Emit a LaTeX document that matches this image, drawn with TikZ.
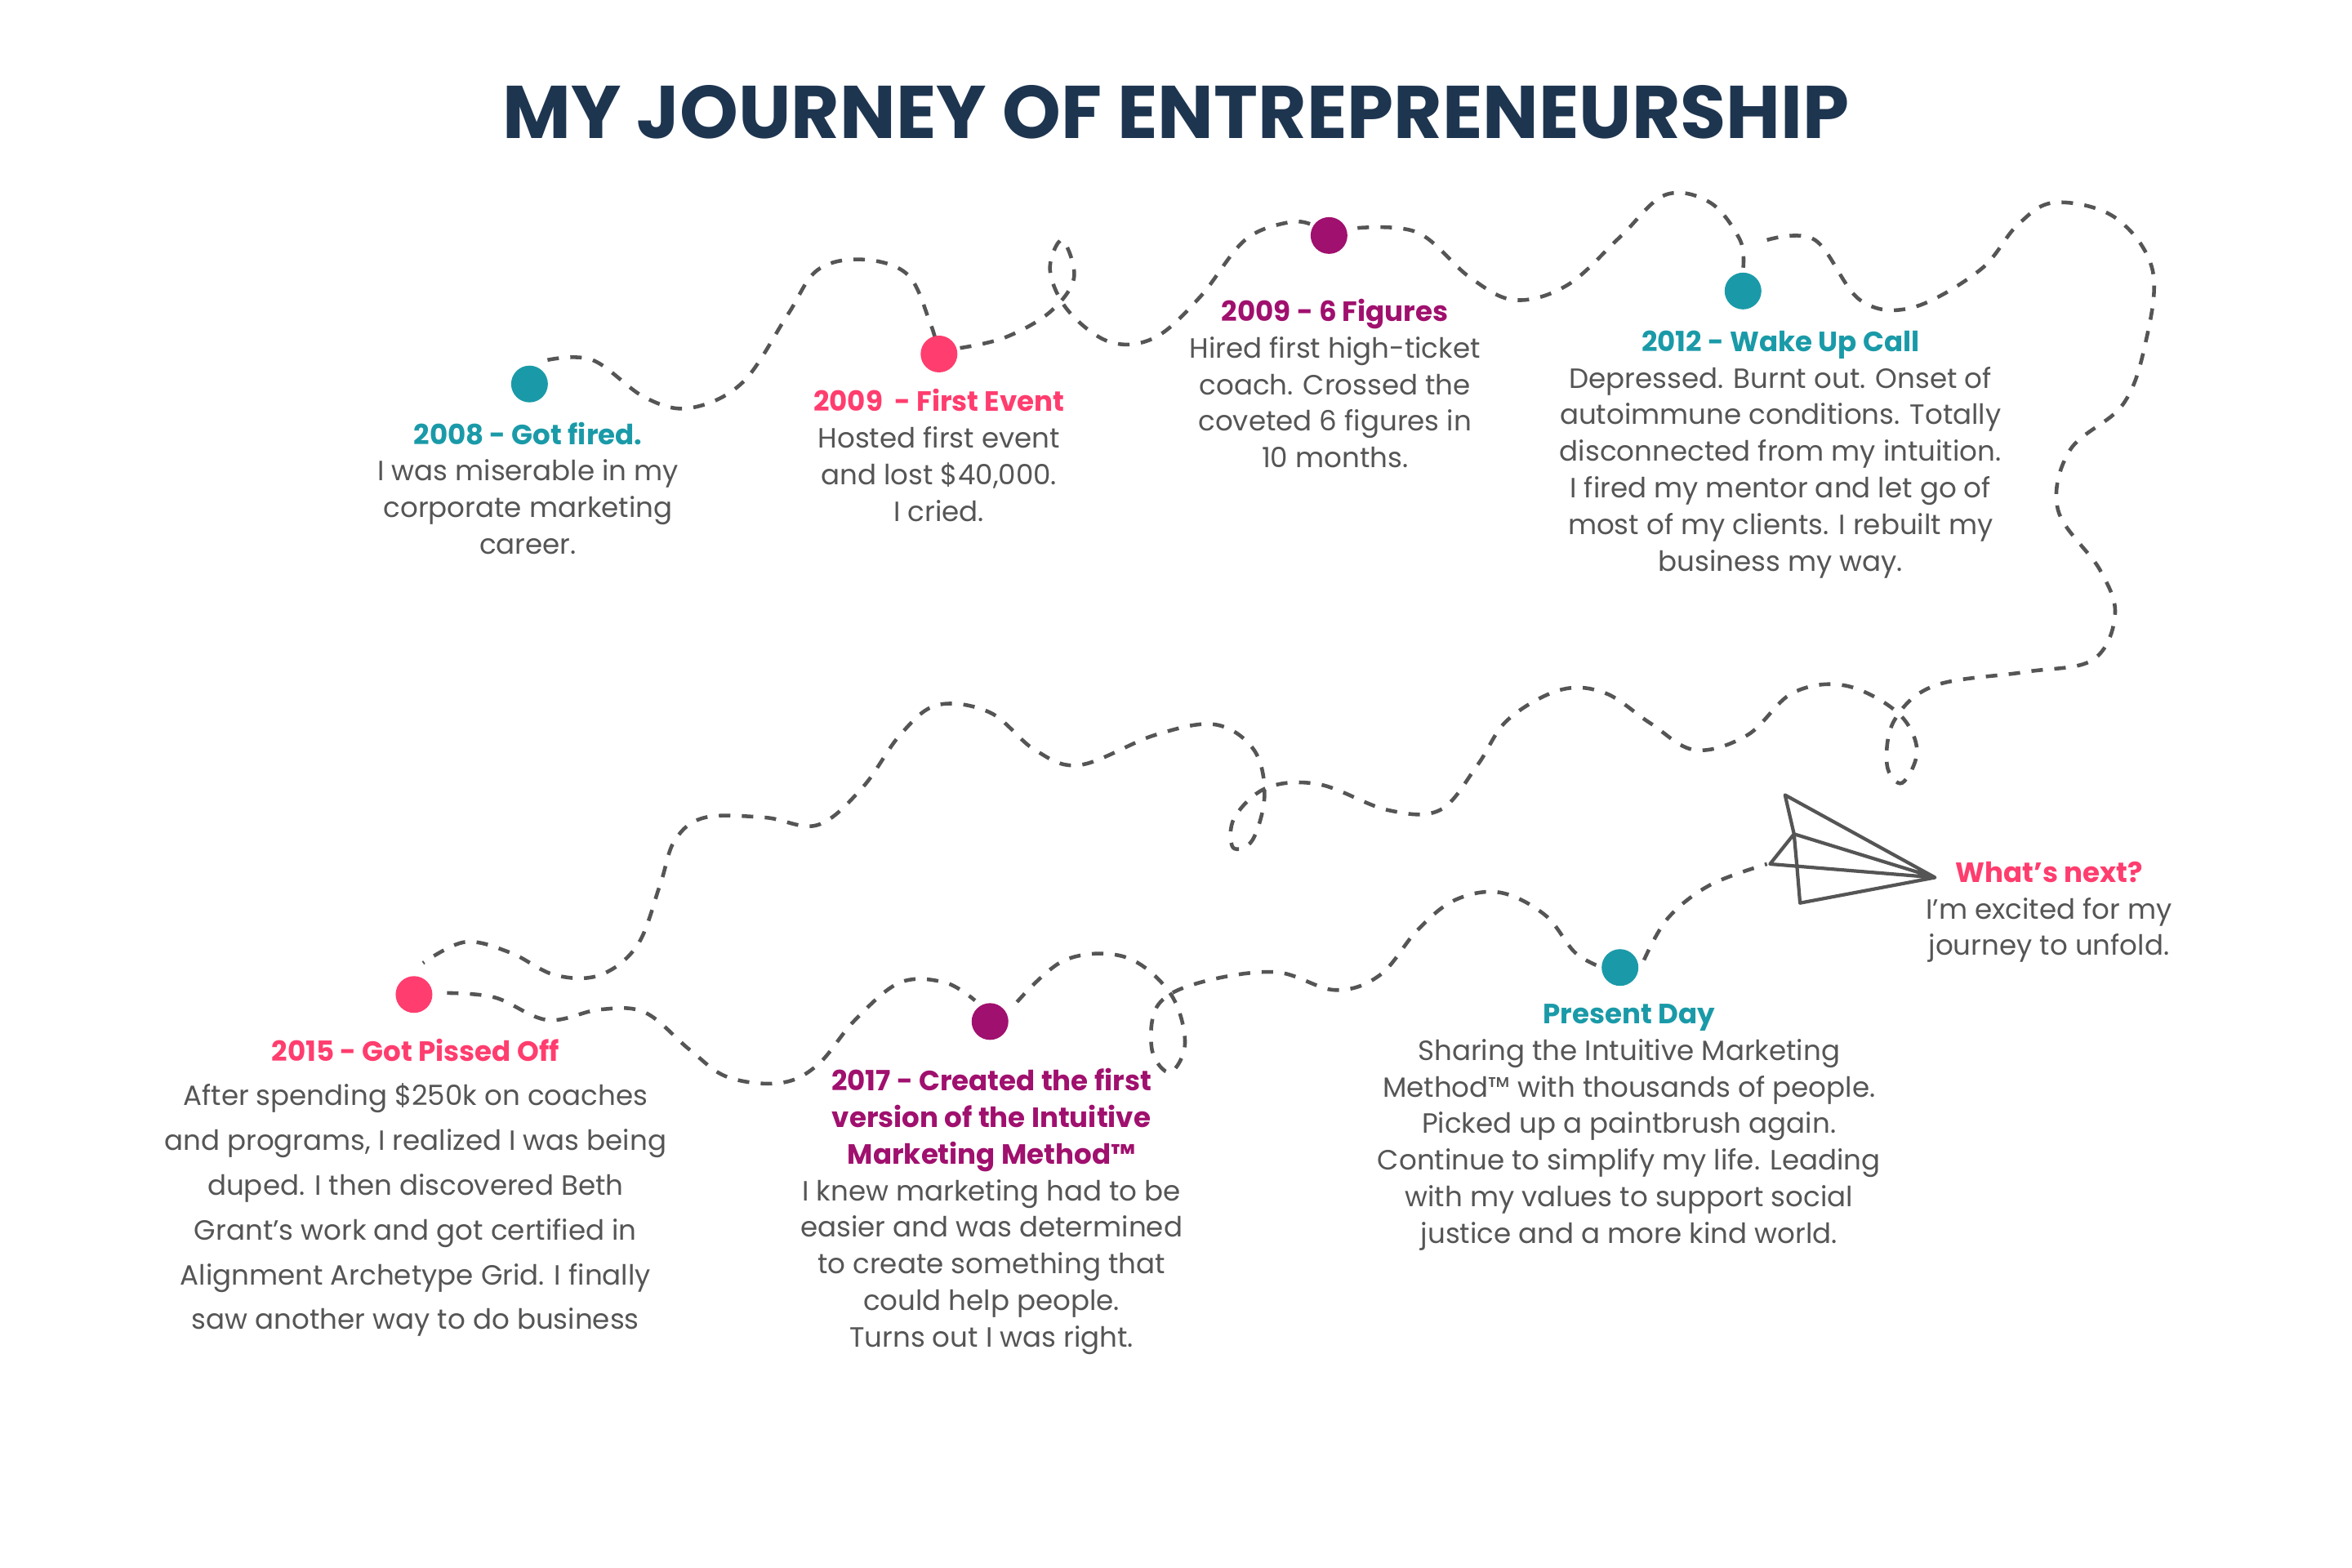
\documentclass[tikz,border=0pt]{standalone}
\usepackage{fontspec}
\setmainfont{Poppins}
\definecolor{teal1}{HTML}{1A9AA8}
\definecolor{pink1}{HTML}{FF3D6E}
\definecolor{purp1}{HTML}{A0106E}
\definecolor{navy1}{HTML}{1E3550}
\definecolor{txt1}{HTML}{555555}
\definecolor{line1}{HTML}{555555}
\begin{document}
\begin{tikzpicture}[x=0.018367cm,y=-0.018367cm,
  trail/.style={line1,line width=1.3pt,dash pattern=on 4pt off 4pt},
  dotn/.style={circle,minimum size=0.45cm,inner sep=0},
  info/.style={anchor=north,align=center,text=txt1,font=\fontsize{9.7}{12.75}\selectfont,inner sep=0}]
\useasboundingbox (0,0) rectangle (1568,1045);
\fill[white] (0,0) rectangle (1568,1045);
\node[font=\bfseries\fontsize{26}{30}\selectfont,text=navy1] (title) at (784,75) {MY JOURNEY OF ENTREPRENEURSHIP};
\draw[trail] plot[smooth,tension=0.6] coordinates {(365,240) (395,240) (430,265) (460,272) (495,255) (525,210) (545,180) (575,173) (605,183) (620,215) (625,232)};
\draw[trail] plot[smooth,tension=0.6] coordinates {(640,232) (670,225) (700,208) (716,185) (708,160) (700,180) (712,207) (740,228) (770,225) (800,198) (830,160) (860,148) (875,150)};
\draw[trail] plot[smooth,tension=0.6] coordinates {(905,152) (945,155) (980,185) (1010,200) (1045,190) (1080,158) (1110,130) (1140,135) (1160,160) (1162,180)};
\draw[trail] plot[smooth,tension=0.6] coordinates {(1178,160) (1210,160) (1240,200) (1275,205) (1320,180) (1345,150) (1370,135) (1410,145) (1435,180) (1430,230) (1415,270) (1380,300) (1372,340) (1400,380) (1410,410) (1395,440) (1350,448) (1290,457) (1263,480) (1258,510) (1268,522) (1278,500) (1265,475) (1230,457) (1195,462) (1165,490) (1130,500) (1100,482) (1070,462) (1040,460) (1005,480) (985,510) (960,540) (925,540) (880,523) (845,525) (823,545) (822,565) (835,560) (843,530) (836,500) (810,483) (770,490) (720,510) (690,500) (660,475) (625,470) (600,490) (575,525) (545,550) (510,545) (470,545) (450,560) (440,590) (425,630) (400,650) (370,650) (340,635) (310,628) (282,642)};
\draw[trail] plot[smooth,tension=0.6] coordinates {(298,662) (330,665) (365,680) (400,673) (430,675) (460,700) (485,718) (520,722) (545,710) (570,680) (600,655) (630,655) (650,667)};
\draw[trail] plot[smooth,tension=0.6] coordinates {(678,668) (710,640) (750,638) (780,662) (790,695) (780,715) (768,700) (772,670) (800,655) (850,648) (890,660) (920,650) (945,620) (970,600) (1000,595) (1030,610) (1050,635) (1068,645)};
\draw[trail] plot[smooth,tension=0.6] coordinates {(1096,640) (1112,612) (1140,590) (1178,576)};
% plane
\draw[line1,line width=1.2pt,line join=round] (1190,530) -- (1290,585) -- (1180,576) -- (1196,556) -- cycle
 (1196,556) -- (1290,585) (1198,578) -- (1200,602) -- (1290,585) (1196,556)--(1198,578);
\node[dotn,fill=teal1] (d1) at (353,256) {};
\node[dotn,fill=pink1] (d2) at (626,236) {};
\node[dotn,fill=purp1] (d3) at (886,157) {};
\node[dotn,fill=teal1] (d4) at (1162,194) {};
\node[dotn,fill=pink1] (d5) at (276,663) {};
\node[dotn,fill=purp1] (d6) at (660,681) {};
\node[dotn,fill=teal1] (d7) at (1080,645) {};
\node[info] (t1) at (352,281) {\textcolor{teal1}{\bfseries 2008 - Got fired.}\\I was miserable in my\\corporate marketing\\career.};
\node[info] (t2) at (626,259) {\textcolor{pink1}{\bfseries 2009\ \ - First Event}\\Hosted first event\\and lost \$40,000.\\I cried.};
\node[info] (t3) at (890,199) {\textcolor{purp1}{\bfseries 2009 - 6 Figures}\\Hired first high-ticket\\coach. Crossed the\\coveted 6 figures in\\10 months.};
\node[info] (t4) at (1187,220) {\textcolor{teal1}{\bfseries 2012 - Wake Up Call}\\Depressed. Burnt out. Onset of\\autoimmune conditions. Totally\\disconnected from my intuition.\\I fired my mentor and let go of\\most of my clients. I rebuilt my\\business my way.};
\node[info,font=\fontsize{9.7}{15.6}\selectfont] (t5) at (277,692) {\textcolor{pink1}{\bfseries 2015 - Got Pissed Off}\\After spending \$250k on coaches\\and programs, I realized I was being\\duped. I then discovered Beth\\Grant's work and got certified in\\Alignment Archetype Grid. I finally\\saw another way to do business};
\node[info] (t6) at (661,712) {\textcolor{purp1}{\bfseries 2017 - Created the first}\\\textcolor{purp1}{\bfseries version of the Intuitive}\\\textcolor{purp1}{\bfseries Marketing Method™}\\I knew marketing had to be\\easier and was determined\\to create something that\\could help people.\\Turns out I was right.};
\node[info] (t7) at (1086,669) {\textcolor{teal1}{\bfseries Present Day}\\Sharing the Intuitive Marketing\\Method™ with thousands of people.\\Picked up a paintbrush again.\\Continue to simplify my life. Leading\\with my values to support social\\justice and a more kind world.};
\node[info] (t8) at (1366,574) {\textcolor{pink1}{\bfseries What's next?}\\I'm excited for my\\journey to unfold.};
\end{tikzpicture}
\end{document}
